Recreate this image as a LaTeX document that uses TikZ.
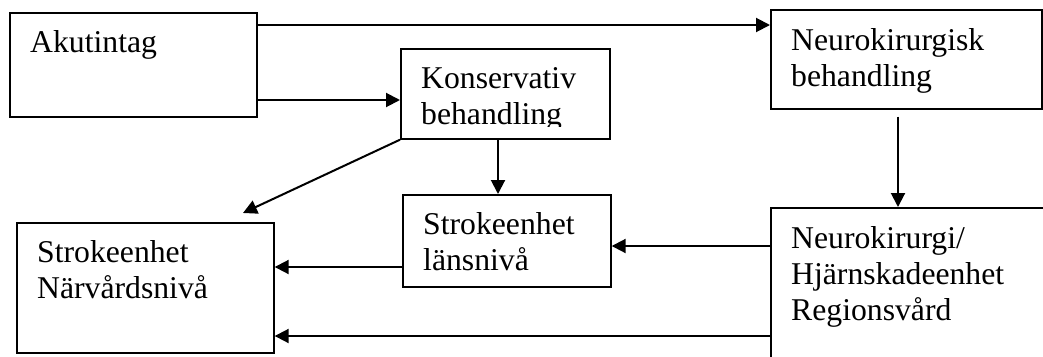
\documentclass[tikz,border=0pt]{standalone}
\usepackage{fontspec}
\setmainfont{Liberation Serif}
\usetikzlibrary{arrows.meta}
\newcommand\lines[1]{\vtop{\baselineskip=36pt #1}}
\begin{document}
\begin{tikzpicture}[x=1pt,y=-1pt,
  box/.style={draw, line width=1.7pt, inner sep=0pt, anchor=north west},
  txt/.style={anchor=base west, inner sep=0pt, font=\fontsize{31.7pt}{36pt}\selectfont},
  arr/.style={line width=2pt, -{Triangle[length=14pt,width=14pt]}},
]
\path[use as bounding box, clip] (0,0) rectangle (1043,356);
\fill[white] (0,0) rectangle (1043,356);

% boxes
\node[box, minimum width=247pt, minimum height=104pt] (akut)   at (9,12)    {};
\node[box, minimum width=209pt, minimum height=90pt]  (kons)   at (400,48)  {};
\node[box, minimum width=271pt, minimum height=99pt]  (neuroB) at (770,9)   {};
\node[box, minimum width=300pt, minimum height=200pt] (neuroR) at (770,207) {};
\node[box, minimum width=208pt, minimum height=92pt]  (lans)   at (402,194) {};
\node[box, minimum width=257pt, minimum height=130pt] (narv)   at (16,222)  {};

% texts
\node[txt] (akutT) at ([shift={(21pt,-40pt)}]akut.north west) {Akutintag};
\begin{scope}
  \clip (kons.north west) rectangle ([yshift=-78pt]kons.north east);
  \node[txt] (konsT) at ([shift={(21pt,-40pt)}]kons.north west)
    {\lines{\hbox{Konservativ}\hbox{behandling}}};
\end{scope}
\node[txt] (neuroBT) at ([shift={(21pt,-41pt)}]neuroB.north west)
  {\lines{\hbox{Neurokirurgisk}\hbox{behandling}}};
\node[txt] (neuroRT) at ([shift={(21pt,-41pt)}]neuroR.north west)
  {\lines{\hbox{Neurokirurgi/}\hbox{Hjärnskadeenhet}\hbox{Regionsvård}}};
\node[txt] (lansT) at ([shift={(21pt,-40pt)}]lans.north west)
  {\lines{\hbox{Strokeenhet}\hbox{länsnivå}}};
\node[txt] (narvT) at ([shift={(21pt,-40pt)}]narv.north west)
  {\lines{\hbox{Strokeenhet}\hbox{Närvårdsnivå}}};

% connectors
\path ([yshift=-13pt]akut.north east) coordinate (p1);
\draw[arr] (p1) -- (p1 -| neuroB.west);
\path ([yshift=-88pt]akut.north east) coordinate (p2);
\draw[arr] (p2) -- (p2 -| kons.west);
\coordinate (q) at ([shift={(227pt,9pt)}]narv.north west);
\draw[arr] (kons.south west) -- (q);
\path ([xshift=98pt]kons.south west) coordinate (p3);
\draw[arr] (p3) -- (p3 |- lans.north);
\path ([shift={(128pt,-7pt)}]neuroB.south west) coordinate (p4);
\draw[arr] (p4) -- (p4 |- neuroR.north);
\path ([yshift=-39pt]neuroR.north west) coordinate (p5);
\draw[arr] (p5) -- (p5 -| lans.east);
\path ([yshift=-73pt]lans.north west) coordinate (p6);
\draw[arr] (p6) -- (p6 -| narv.east);
\path ([yshift=-129pt]neuroR.north west) coordinate (p7);
\draw[arr] (p7) -- (p7 -| narv.east);
\end{tikzpicture}
\end{document}
